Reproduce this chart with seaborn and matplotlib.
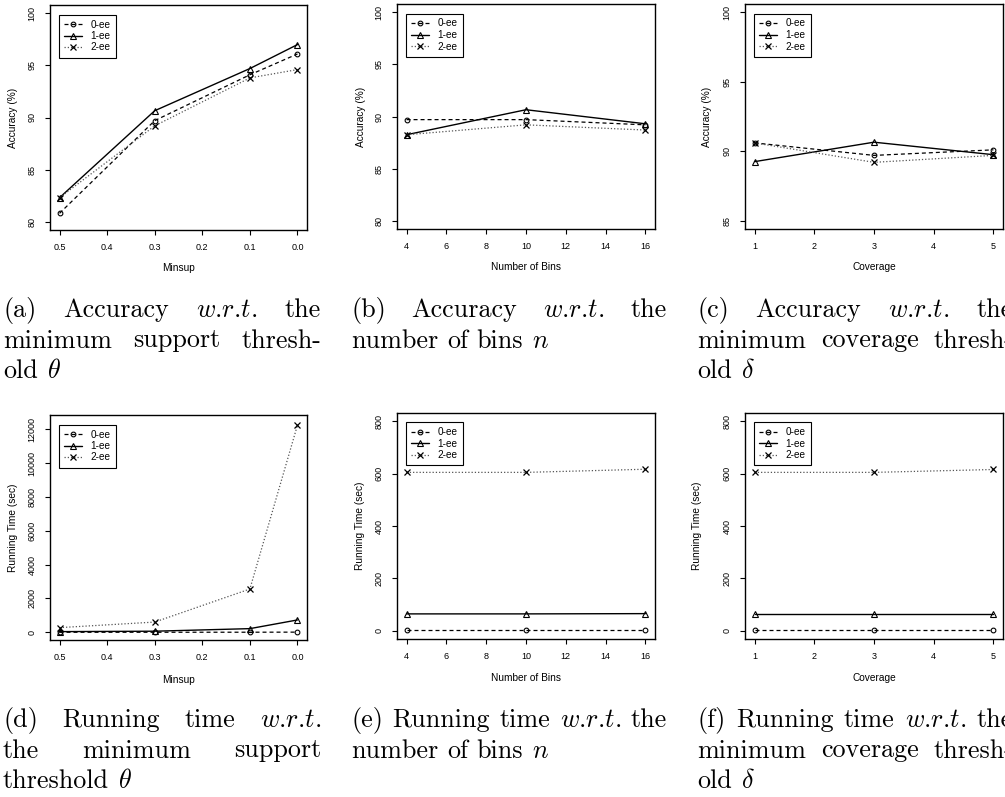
import matplotlib
matplotlib.use("Agg")
import matplotlib.pyplot as plt
import matplotlib.ticker as mticker
import seaborn as sns

# ---------------- data ----------------
series_labels = ["0-ee", "1-ee", "2-ee"]

minsup = [0.5, 0.3, 0.1, 0.0]
acc_minsup_0ee = [80.8, 89.7, 94.1, 96.1]
acc_minsup_1ee = [82.3, 90.65, 94.7, 97.0]
acc_minsup_2ee = [82.3, 89.2, 93.8, 94.6]

bins = [4, 10, 16]
acc_bins_0ee = [89.7, 89.7, 89.2]
acc_bins_1ee = [88.25, 90.65, 89.3]
acc_bins_2ee = [88.25, 89.2, 88.7]

coverage = [1, 3, 5]
acc_cov_0ee = [90.6, 89.7, 90.1]
acc_cov_1ee = [89.25, 90.65, 89.75]
acc_cov_2ee = [90.6, 89.2, 89.7]

time_minsup_0ee = [2, 3, 5, 10]
time_minsup_1ee = [40, 65, 217, 730]
time_minsup_2ee = [276, 605, 2560, 12250]

time_bins_0ee = [3, 3, 3]
time_bins_1ee = [64, 64, 65]
time_bins_2ee = [605, 605, 617]

time_cov_0ee = [3, 3, 3]
time_cov_1ee = [65, 65, 65]
time_cov_2ee = [605, 605, 616]

minsup_ticks = [0.5, 0.4, 0.3, 0.2, 0.1, 0.0]
bins_ticks = [4, 6, 8, 10, 12, 14, 16]
cov_ticks = [1, 2, 3, 4, 5]
acc_ticks_80 = [80, 85, 90, 95, 100]
acc_ticks_85 = [85, 90, 95, 100]
time_ticks_big = [0, 2000, 4000, 6000, 8000, 10000, 12000]
time_ticks_small = [0, 200, 400, 600, 800]

xlabel_minsup = "Minsup"
xlabel_bins = "Number of Bins"
xlabel_cov = "Coverage"
ylabel_acc = "Accuracy (%)"
ylabel_time = "Running Time (sec)"

WRT = "$w$.$r$.$t$."
captions = {
    "a": [(["(a)", "Accuracy", WRT, "the"], True),
          (["minimum", "support", "thresh-"], True),
          (["old", r"$\theta$"], False)],
    "b": [(["(b)", "Accuracy", WRT, "the"], True),
          (["number", "of", "bins", "$n$"], False)],
    "c": [(["(c)", "Accuracy", WRT, "the"], True),
          (["minimum", "coverage", "thresh-"], True),
          (["old", r"$\delta$"], False)],
    "d": [(["(d)", "Running", "time", WRT], True),
          (["the", "minimum", "support"], True),
          (["threshold", r"$\theta$"], False)],
    "e": [(["(e)", "Running", "time", WRT, "the"], True),
          (["number", "of", "bins", "$n$"], False)],
    "f": [(["(f)", "Running", "time", WRT, "the"], True),
          (["minimum", "coverage", "thresh-"], True),
          (["old", r"$\delta$"], False)],
}

# ---------------- style ----------------
sns.set_theme(style="ticks")
plt.rcParams["font.family"] = ["Liberation Sans", "DejaVu Sans"]
plt.rcParams["mathtext.fontset"] = "cm"
plt.rcParams["axes.unicode_minus"] = False

W, H = 1005, 797
fig = plt.figure(figsize=(W / 100, H / 100), dpi=100)
fig.patch.set_facecolor("white")


def px_axes(l, t, r, b):
    return fig.add_axes([l / W, 1 - b / H, (r - l) / W, (b - t) / H])


line_styles = [
    dict(color="black", linestyle=(0, (3.2, 2.4)), linewidth=0.9, marker="o",
         markersize=3.4, markerfacecolor="none", markeredgecolor="black",
         markeredgewidth=0.8),
    dict(color="black", linestyle="-", linewidth=1.0, marker="^",
         markersize=4.4, markerfacecolor="none", markeredgecolor="black",
         markeredgewidth=0.8),
    dict(color="#555555", linestyle=(0, (1, 1.6)), linewidth=0.9, marker="x",
         markersize=3.8, markerfacecolor="none", markeredgecolor="black",
         markeredgewidth=0.9),
]


def panel(box, x, ys, xlim, ylim, xticks, yticks, xlabel, ylabel,
          ylab_dx, xlab_dy, xfmt=None):
    l, t, r, b = box
    ax = px_axes(l, t, r, b)
    wpx, hpx = r - l, b - t
    for yv, lab, st in zip(ys, series_labels, line_styles):
        sns.lineplot(x=x, y=yv, ax=ax, label=lab, sort=False, **st)
    ax.set_xlim(*xlim)
    ax.set_ylim(*ylim)
    ax.xaxis.set_major_locator(mticker.FixedLocator(xticks))
    ax.yaxis.set_major_locator(mticker.FixedLocator(yticks))
    if xfmt:
        ax.xaxis.set_major_formatter(mticker.FormatStrFormatter(xfmt))
    ax.yaxis.set_major_formatter(mticker.FormatStrFormatter("%d"))
    ax.tick_params(axis="both", direction="out", length=3.6, width=0.8,
                   color="black", labelsize=6.5, labelcolor="black")
    ax.tick_params(axis="x", pad=5.5)
    ax.tick_params(axis="y", pad=6.0, labelrotation=90)
    for lab in ax.get_yticklabels():
        lab.set_va("center")
    for sp in ax.spines.values():
        sp.set_visible(True)
        sp.set_color("black")
        sp.set_linewidth(1.0)
    ax.grid(False)
    ax.set_facecolor("white")
    ax.set_xlabel(xlabel, fontsize=7.3, color="black")
    ax.set_ylabel(ylabel, fontsize=7.3, color="black")
    ax.xaxis.set_label_coords(0.5, -xlab_dy / hpx)
    ax.xaxis.label.set_va("center")
    ax.yaxis.set_label_coords(-ylab_dx / wpx, 0.5)
    ax.yaxis.label.set_va("center")
    handles, labels = ax.get_legend_handles_labels()
    leg = ax.legend(handles, labels, loc="upper left",
                    bbox_to_anchor=(8.5 / wpx, 1 - 9.5 / hpx),
                    borderaxespad=0, frameon=True, fancybox=False,
                    edgecolor="black", facecolor="white", framealpha=1,
                    fontsize=7.2, handlelength=1.8, handletextpad=0.9,
                    borderpad=0.5, labelspacing=0.15, numpoints=1)
    leg.get_frame().set_linewidth(0.8)
    for txt in leg.get_texts():
        txt.set_color("black")
    return ax


def pad4(lo, hi):
    d = (hi - lo) * 0.04
    return (lo - d, hi + d)


# top row
panel((50, 5, 307, 230), minsup,
      [acc_minsup_0ee, acc_minsup_1ee, acc_minsup_2ee],
      (0.52, -0.02), pad4(80, 100), minsup_ticks, acc_ticks_80,
      xlabel_minsup, ylabel_acc, 37, 38, xfmt="%.1f")
panel((397, 4, 655, 229), bins,
      [acc_bins_0ee, acc_bins_1ee, acc_bins_2ee],
      pad4(4, 16), pad4(80, 100), bins_ticks, acc_ticks_80,
      xlabel_bins, ylabel_acc, 36, 38)
panel((745, 4, 1003, 229), coverage,
      [acc_cov_0ee, acc_cov_1ee, acc_cov_2ee],
      pad4(1, 5), pad4(85, 100), cov_ticks, acc_ticks_85,
      xlabel_cov, ylabel_acc, 38, 38)

# bottom row
panel((50, 415, 307, 640), minsup,
      [time_minsup_0ee, time_minsup_1ee, time_minsup_2ee],
      (0.52, -0.02), (-455, 12845), minsup_ticks, time_ticks_big,
      xlabel_minsup, ylabel_time, 37, 40, xfmt="%.1f")
panel((397, 413, 655, 639), bins,
      [time_bins_0ee, time_bins_1ee, time_bins_2ee],
      pad4(4, 16), pad4(0, 800), bins_ticks, time_ticks_small,
      xlabel_bins, ylabel_time, 37, 39)
panel((745, 413, 1003, 639), coverage,
      [time_cov_0ee, time_cov_1ee, time_cov_2ee],
      pad4(1, 5), pad4(0, 800), cov_ticks, time_ticks_small,
      xlabel_cov, ylabel_time, 48, 39)

# ---------------- captions (justified like LaTeX subcaptions) ----------------
renderer = fig.canvas.get_renderer()


def caption(lines, x0, x1, y0, step, size=18.8):
    for i, (words, justify) in enumerate(lines):
        y = y0 + i * step
        texts = [fig.text(0, 1 - y / H, w, fontsize=size, family="cmr10",
                          va="baseline", ha="left", color="black")
                 for w in words]
        widths = [t.get_window_extent(renderer).width for t in texts]
        if justify and len(words) > 1:
            gap = (x1 - x0 - sum(widths)) / (len(words) - 1)
        else:
            gap = size / 0.72 * 0.333
        x = x0
        for t, wd in zip(texts, widths):
            t.set_x(x / W)
            x += wd + gap


caption(captions["a"], 3, 321, 317, 30.5)
caption(captions["b"], 351, 667, 317, 30.5)
caption(captions["c"], 697, 1013, 317, 30.5)
caption(captions["d"], 3, 321, 727, 30.5)
caption(captions["e"], 351, 667, 727, 30.5)
caption(captions["f"], 697, 1013, 727, 30.5)

fig.savefig("out.png", dpi=100, facecolor="white")
